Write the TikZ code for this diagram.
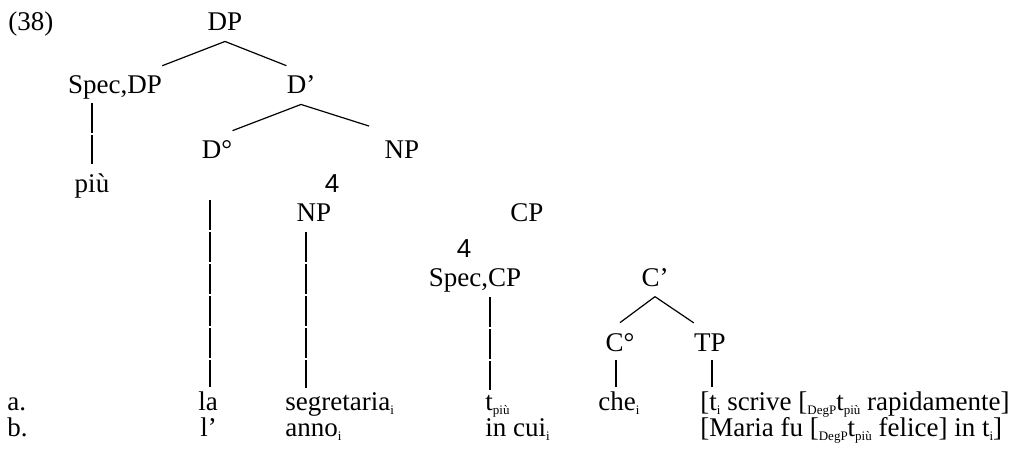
\documentclass[tikz,border=0pt]{standalone}
\usepackage{fontspec}
\setmainfont{Liberation Serif}
\newfontfamily\glyphfont{Liberation Sans}
\usetikzlibrary{calc}

\newcommand{\lowsub}[1]{\raisebox{-0.35ex}{\fontsize{6.5pt}{6.5pt}\selectfont #1}}

\begin{document}
\begin{tikzpicture}[x=0.5pt, y=-0.5pt,
		every node/.style={font=\fontsize{13.5pt}{16pt}\selectfont},
		label/.style={anchor=base, inner xsep=0pt, inner ysep=5pt},
		word/.style={anchor=base west, inner xsep=0pt, inner ysep=2pt},
		tri/.style={anchor=base, inner sep=0pt, font=\glyphfont\fontsize{13pt}{15pt}\selectfont},
		branch/.style={line width=0.6pt},
		stem/.style={line width=0.65pt, dash pattern=on 15pt off 1pt}
	]
	
	\useasboundingbox (0,0) rectangle (1035,460);
	
	\def\rowA{410} % baseline of row a.
	\def\rowB{436} % baseline of row b.
	
	% example number
	\node[word] (num) at (8,31) {(38)};
	
	% the DP part
	\node[label] (dp) at (225,31) {DP};
	\node[label] (specdp) at (115,94) {Spec,DP};
	\node[label] (dbar) at (301,94) {D’};
	\node[label] (d0) at (217,159) {D°};
	\node[label] (np) at (402,159) {NP};
	\node[label] (piu) at (92,193) {più};
	\node[tri] (triA) at (332,192) {4};
	
	% the NP and CP part
	\node[label] (np2) at (314,222) {NP};
	\node[label] (cp) at (527,222) {CP};
	\node[tri] (triB) at (464,257) {4};
	\node[label] (speccp) at (475,286) {Spec,CP};
	\node[label] (cbar) at (655,286) {C’};
	\node[label] (c0) at (620,351) {C°};
	\node[label] (tp) at (710,351) {TP};
	
	% branches
	\draw[branch] (dp.south) -- (specdp.north east);
	\draw[branch] (dp.south) -- (dbar.north west);
	\draw[branch] (dbar.south) -- (d0.north east);
	\draw[branch, shorten >=8pt] (dbar.south) -- (np.north west);
	\draw[branch] (cbar.south) -- (c0.north);
	\draw[branch] (cbar.south) -- (tp.north west);
	
	% row a.
	\node[word] (a) at (7,\rowA) {a.};
	\node[word] (la) at (198,\rowA) {la};
	\node[word] (segr) at (285,\rowA) {segretaria\lowsub{i}};
	\node[word] (tpiu) at (485,\rowA) {t\lowsub{più}};
	\node[word] (che) at (598,\rowA) {che\lowsub{i}};
	\node[word] (tscr) at (700,\rowA) {[t\lowsub{i} scrive [\lowsub{DegP}t\lowsub{più} rapidamente]};
	
	% row b.
	\node[word] (b) at (7,\rowB) {b.};
	\node[word] (lapo) at (200,\rowB) {l’};
	\node[word] (anno) at (285,\rowB) {anno\lowsub{i}};
	\node[word] (incui) at (485,\rowB) {in cui\lowsub{i}};
	\node[word] (maria) at (700,\rowB) {[Maria fu [\lowsub{DegP}t\lowsub{più} felice] in t\lowsub{i}]};
	
	% stems down to the words
	\coordinate (piuTop) at (92,103);
	\coordinate (laTop) at (210,200);
	\coordinate (segrTop) at (306,232);
	\coordinate (tpiuTop) at (490,297);
	\coordinate (cheTop) at (616,360);
	\coordinate (tscrTop) at (712,360);
	\draw[stem] (piuTop) -- (piuTop |- piu.north);
	\draw[stem] (laTop) -- (laTop |- la.north);
	\draw[stem] (segrTop) -- (segrTop |- segr.north);
	\draw[stem] (tpiuTop) -- (tpiuTop |- tpiu.north);
	\draw[stem] (cheTop) -- (cheTop |- che.north);
	\draw[stem] (tscrTop) -- (tscrTop |- tscr.north);
	
\end{tikzpicture}
\end{document}
